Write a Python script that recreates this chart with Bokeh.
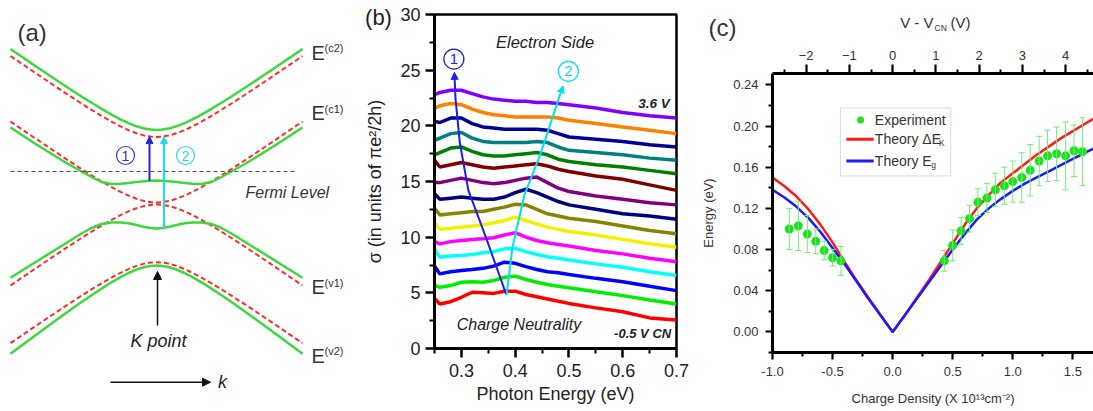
from bokeh.plotting import figure
from bokeh.layouts import row, column
from bokeh.models import (ColumnDataSource, FixedTicker, PrintfTickFormatter, LinearAxis,
                          Range1d, Label, Arrow, NormalHead, Whisker, TeeHead, BoxAnnotation)
from bokeh.embed import file_html
from bokeh.resources import INLINE

FONT = "Liberation Sans"

# ---------------- Panel (a): schematic bands (k from K point, E relative to Fermi level) -------------
BAND_K_ABS = [0, 6, 12, 20, 28, 36, 45, 55, 65, 75, 95, 120, 146]
GREEN_C2 = [41.5, 41.9, 42.9, 45.2, 48.4, 52.1, 56.9, 62.7, 68.7, 75.0, 88.0, 104.8, 122.5]
RED_C2 = [34.5, 34.9, 35.9, 38.2, 41.4, 45.1, 49.9, 55.7, 61.7, 68.0, 81.0, 97.8, 115.5]
GREEN_C1 = [-9.0, -9.2, -9.7, -10.6, -11.6, -12.3, -12.5, -10.5, -5.5, 0.0, 11.5, 27.0, 44.0]
RED_C1 = [-31.0, -30.6, -29.6, -27.3, -24.1, -20.4, -15.6, -9.8, -3.8, 2.5, 15.5, 32.3, 50.0]
GREEN_V1 = [-57.0, -56.6, -55.5, -53.5, -51.8, -51.0, -51.0, -52.5, -56.5, -62.0, -74.5, -90.0, -106.3]
RED_V1 = [-33.0, -33.4, -34.4, -36.7, -39.9, -43.6, -48.4, -54.2, -60.2, -66.5, -79.5, -96.3, -114.0]
RED_V2 = [-90.7, -91.1, -92.1, -94.4, -97.6, -101.3, -106.1, -111.9, -117.9, -124.2, -137.2, -154.0, -171.7]
GREEN_V2 = [-94.0, -94.4, -95.5, -98.0, -101.5, -105.6, -110.8, -117.1, -123.7, -130.5, -144.7, -163.0, -182.3]
BAND_LABELS = ["(c2)", "(c1)", "(v1)", "(v2)"]
BAND_LABEL_E = [119, 58.5, -115.7, -184]

# ---------------- Panel (b): optical conductivity spectra ----------------
E_GRID = [0.25, 0.26, 0.28, 0.30, 0.32, 0.34, 0.36, 0.38, 0.40, 0.42, 0.44, 0.46, 0.48, 0.50, 0.55, 0.60, 0.65, 0.70]
SIG_RED = [4.5, 4.0, 4.2, 4.6, 5.05, 5.0, 4.95, 5.15, 5.15, 4.85, 4.65, 4.45, 4.25, 4.05, 3.65, 3.3, 2.75, 2.55]
SIG_LIME = [5.7, 5.5, 5.65, 5.95, 6.0, 5.95, 6.1, 6.4, 6.5, 6.2, 5.95, 5.75, 5.6, 5.45, 5.1, 4.75, 4.35, 4.0]
SIG_BLUE = [7.4, 6.7, 6.9, 7.0, 7.1, 7.2, 7.4, 7.75, 7.65, 7.35, 7.1, 6.9, 6.8, 6.65, 6.3, 6.0, 5.6, 5.2]
SIG_CYAN = [8.9, 8.2, 8.3, 8.35, 8.45, 8.6, 8.7, 8.95, 9.0, 8.7, 8.45, 8.25, 8.1, 7.95, 7.6, 7.3, 6.9, 6.55]
SIG_MAGENTA = [9.6, 9.4, 9.6, 9.7, 9.8, 9.85, 9.95, 10.2, 10.4, 10.0, 9.7, 9.5, 9.35, 9.2, 8.8, 8.5, 8.1, 7.8]
SIG_YELLOW = [11.3, 10.7, 10.8, 10.9, 11.0, 11.1, 11.3, 11.5, 11.8, 11.5, 11.2, 10.9, 10.7, 10.5, 10.2, 9.8, 9.4, 9.1]
SIG_OLIVE = [12.6, 12.0, 12.1, 12.2, 12.3, 12.3, 12.5, 12.7, 12.95, 12.9, 12.5, 12.1, 11.9, 11.7, 11.4, 11.0, 10.6, 10.3]
SIG_NAVY = [13.9, 13.4, 13.5, 13.6, 13.5, 13.4, 13.4, 13.6, 14.0, 14.3, 14.0, 13.6, 13.2, 12.9, 12.5, 12.1, 11.9, 11.6]
SIG_PURPLE = [14.9, 14.9, 15.1, 15.3, 15.1, 14.9, 14.8, 14.9, 15.1, 15.3, 15.4, 14.9, 14.4, 14.1, 13.7, 13.4, 13.1, 12.9]
SIG_MAROON = [16.9, 16.3, 16.5, 16.7, 16.5, 16.3, 16.2, 16.3, 16.4, 16.5, 16.6, 16.4, 16.1, 15.9, 15.5, 15.2, 14.7, 14.2]
SIG_GREEN = [17.4, 17.6, 18.0, 18.1, 17.7, 17.4, 17.3, 17.3, 17.4, 17.5, 17.6, 17.4, 17.0, 16.8, 16.5, 16.3, 16.0, 15.7]
SIG_TEAL = [18.7, 18.9, 19.3, 19.4, 18.9, 18.6, 18.5, 18.5, 18.5, 18.5, 18.6, 18.5, 18.1, 17.8, 17.6, 17.4, 17.1, 16.9]
SIG_NAVY2 = [20.4, 20.3, 20.7, 20.7, 20.2, 19.9, 19.8, 19.7, 19.7, 19.7, 19.7, 19.6, 19.3, 19.0, 18.8, 18.6, 18.3, 18.1]
SIG_ORANGE = [21.6, 21.8, 22.0, 21.9, 21.5, 21.2, 21.0, 20.9, 20.8, 20.8, 20.8, 20.8, 20.7, 20.5, 20.2, 19.9, 19.6, 19.3]
SIG_VIOLET = [22.8, 23.0, 23.2, 23.2, 22.9, 22.6, 22.4, 22.3, 22.2, 22.2, 22.1, 22.1, 22.0, 21.9, 21.6, 21.2, 20.9, 20.7]
SPECTRA = [SIG_RED, SIG_LIME, SIG_BLUE, SIG_CYAN, SIG_MAGENTA, SIG_YELLOW, SIG_OLIVE, SIG_NAVY,
           SIG_PURPLE, SIG_MAROON, SIG_GREEN, SIG_TEAL, SIG_NAVY2, SIG_ORANGE, SIG_VIOLET]
SPECTRA_COLORS = ["#ff0000", "#00ee00", "#0000ff", "#00ffff", "#ff00ff", "#f2f200", "#858500", "#000080",
                  "#800080", "#800000", "#008000", "#008080", "#000099", "#ff8000", "#8000ff"]
PEAK1_E = [0.383, 0.347, 0.313, 0.297, 0.289, 0.287]
PEAK1_S = [4.9, 9.8, 14.2, 18.5, 22.5, 24.8]
PEAK2_E = [0.384, 0.395, 0.417, 0.448, 0.478, 0.489]
PEAK2_S = [4.8, 9.1, 13.75, 17.6, 22.0, 23.6]

# ---------------- Panel (c): gap vs charge density ----------------
EXP_X = [-0.86, -0.785, -0.71, -0.64, -0.57, -0.50, -0.43, 0.43, 0.50, 0.57, 0.64, 0.71, 0.785, 0.855,
         0.93, 1.00, 1.075, 1.145, 1.22, 1.29, 1.365, 1.44, 1.51, 1.58]
EXP_Y = [0.100, 0.103, 0.095, 0.088, 0.079, 0.072, 0.069, 0.069, 0.084, 0.098, 0.110, 0.126, 0.130, 0.138,
         0.142, 0.146, 0.150, 0.157, 0.166, 0.171, 0.173, 0.171, 0.176, 0.175]
EXP_ERR = [0.020, 0.024, 0.018, 0.012, 0.009, 0.008, 0.014, 0.010, 0.015, 0.013, 0.013, 0.013, 0.014, 0.016,
           0.018, 0.020, 0.024, 0.025, 0.024, 0.025, 0.026, 0.033, 0.025, 0.033]
TH_X = [-1.0, -0.9, -0.8, -0.7, -0.6, -0.5, -0.4, -0.3, -0.2, -0.1, 0.0, 0.1, 0.2, 0.3, 0.4, 0.5, 0.6,
        0.7, 0.8, 0.9, 1.0, 1.1, 1.2, 1.3, 1.4, 1.5, 1.6, 1.672]
TH_DEK = [0.150, 0.1415, 0.1315, 0.119, 0.104, 0.087, 0.068, 0.050, 0.033, 0.0165, 0.0, 0.016, 0.033, 0.050,
          0.068, 0.086, 0.104, 0.120, 0.133, 0.145, 0.154, 0.163, 0.172, 0.180, 0.188, 0.195, 0.202, 0.207]
TH_EG = [0.138, 0.1305, 0.1215, 0.1105, 0.097, 0.0815, 0.066, 0.049, 0.032, 0.016, 0.0, 0.016, 0.032, 0.048,
         0.064, 0.080, 0.095, 0.109, 0.120, 0.129, 0.137, 0.144, 0.150, 0.156, 0.162, 0.168, 0.174, 0.178]
V_TICKS = [-2, -1, 0, 1, 2, 3, 4]
V_MINOR = [-2.5, -1.5, -0.5, 0.5, 1.5, 2.5, 3.5, 4.5]
DENSITY_PER_VOLT = 0.36

W, H = 1093, 411


def lab(p, x, y, text, size, color="#222222", style="normal", align="center", baseline="middle"):
    p.add_layout(Label(x=x, y=y, text=text, text_font=FONT, text_font_size=f"{size}px",
                       text_color=color, text_font_style=style, text_align=align,
                       text_baseline=baseline))


def arrow(p, x0, y0, x1, y1, color, width=2, head=8):
    p.add_layout(Arrow(end=NormalHead(size=head, fill_color=color, line_color=color, line_width=1),
                       x_start=x0, y_start=y0, x_end=x1, y_end=y1,
                       line_color=color, line_width=width))


def mirror(kabs, e):
    return [-v for v in kabs[:0:-1]] + list(kabs), list(e[:0:-1]) + list(e)


# ======================= Panel (a) =======================
pa = figure(width=345, height=H, x_range=(-156, 189), y_range=(-240, 171),
            x_axis_type=None, y_axis_type=None, toolbar_location=None,
            output_backend="svg", min_border=0)
pa.outline_line_color = None

RED = "#ff2a2a"
GREEN = "#3cd83c"
for band in [RED_C2, RED_C1, RED_V1, RED_V2]:
    k, e = mirror(BAND_K_ABS, band)
    pa.line(k, e, line_color=RED, line_width=2, line_dash="5 3")
for band in [GREEN_C2, GREEN_C1, GREEN_V1, GREEN_V2]:
    k, e = mirror(BAND_K_ABS, band)
    pa.line(k, e, line_color=GREEN, line_width=2.5)

pa.line([-146, 141], [0, 0], line_color="#555555", line_width=1.2, line_dash="4 3")
lab(pa, 89, -21, "Fermi Level", 16, "#333333", "italic", "left")

arrow(pa, -7, GREEN_C1[1], -7, RED_C2[1], "#2424d0", 2, 7)
arrow(pa, 7.5, GREEN_V1[1], 7.5, RED_C2[1], "#22d8ee", 2, 7)
pa.scatter([-31], [16], size=18, marker="circle", fill_color=None, line_color="#3333cc", line_width=1.2)
lab(pa, -31, 16, "1", 14, "#3333cc")
pa.scatter([29], [16], size=18, marker="circle", fill_color=None, line_color="#22d8ee", line_width=1.2)
lab(pa, 29, 16, "2", 14, "#22d8ee")

arrow(pa, 1, -154, 1, -100, "#111111", 1.5, 8)
lab(pa, 2, -169, "K point", 18, "#222222", "italic")
arrow(pa, -46, -210.7, 54, -210.7, "#111111", 1.5, 8)
lab(pa, 66, -210.7, "k", 18, "#222222", "italic")
lab(pa, -139, 139, "(a)", 24, "#333333", "normal", "left")

# ======================= Panel (b) =======================
pb = figure(width=353, height=H, x_range=Range1d(0.25, 0.70), y_range=Range1d(0, 30),
            toolbar_location=None, output_backend="svg",
            min_border_left=89, min_border_right=22, min_border_top=14, min_border_bottom=63)
pb.grid.visible = False
pb.outline_line_color = "black"
pb.outline_line_width = 2.5

for sig, col in zip(SPECTRA, SPECTRA_COLORS):
    pb.line(E_GRID, sig, line_color=col, line_width=3.5)

pb.line(PEAK1_E[:-1], PEAK1_S[:-1], line_color="#1e1ee6", line_width=2)
arrow(pb, PEAK1_E[-2], PEAK1_S[-2], PEAK1_E[-1], PEAK1_S[-1], "#1e1ee6", 2, 7)
pb.line(PEAK2_E[:-1], PEAK2_S[:-1], line_color="#00e0f0", line_width=2)
arrow(pb, PEAK2_E[-2], PEAK2_S[-2], PEAK2_E[-1], PEAK2_S[-1], "#00e0f0", 2, 7)
pb.scatter([0.286], [26.0], size=20, marker="circle", fill_color=None, line_color="#1e1ee6", line_width=1.3)
lab(pb, 0.286, 26.0, "1", 15, "#1e1ee6")
pb.scatter([0.499], [24.9], size=20, marker="circle", fill_color=None, line_color="#00e0f0", line_width=1.3)
lab(pb, 0.499, 24.9, "2", 15, "#00e0f0")

lab(pb, 0.4556, 27.5, "Electron Side", 16.5, "#222222", "italic")
lab(pb, 0.658, 22.0, "3.6 V", 13.5, "#222222", "bold italic")
lab(pb, 0.407, 2.16, "Charge Neutrality", 16, "#222222", "italic")
lab(pb, 0.637, 1.32, "-0.5 V CN", 13, "#222222", "bold italic")

pb.xaxis.ticker = FixedTicker(ticks=[0.3, 0.4, 0.5, 0.6, 0.7],
                              minor_ticks=[0.25, 0.35, 0.45, 0.55, 0.65])
pb.xaxis.formatter = PrintfTickFormatter(format="%.1f")
pb.yaxis.ticker = FixedTicker(ticks=[0, 5, 10, 15, 20, 25, 30],
                              minor_ticks=[2.5, 7.5, 12.5, 17.5, 22.5, 27.5])
pb.xaxis.axis_label = "Photon Energy (eV)"
pb.yaxis.axis_label = "σ (in units of πe²/2h)"
for ax in [pb.below[0], pb.left[0]]:
    ax.axis_line_width = 3
    ax.major_tick_line_width = 2.5
    ax.minor_tick_line_width = 2
    ax.major_tick_out = 9
    ax.major_tick_in = 0
    ax.minor_tick_out = 5
    ax.minor_tick_in = 0
    ax.major_label_text_font = FONT
    ax.major_label_text_font_size = "18px"
    ax.major_label_text_color = "#222222"
    ax.axis_label_text_font = FONT
    ax.axis_label_text_font_size = "18px"
    ax.axis_label_text_font_style = "normal"
    ax.axis_label_text_color = "#222222"
    ax.major_label_standoff = 5
pb.left[0].axis_label_standoff = 12
pb.below[0].axis_label_standoff = 4
pb.below[0].major_label_standoff = 6

# ======================= Panel (c) =======================
pc = figure(width=395, height=H, x_range=Range1d(-1.0, 1.672), y_range=Range1d(-0.02, 0.251),
            toolbar_location=None, output_backend="svg",
            min_border_left=69, min_border_right=0, min_border_top=73, min_border_bottom=59)
pc.grid.visible = False
pc.outline_line_color = None

pc.line(TH_X, TH_DEK, line_color="#ff1a1a", line_width=2.5)
pc.line(TH_X, TH_EG, line_color="#1a1aff", line_width=2.5)

src = ColumnDataSource(data=dict(
    x=EXP_X, y=EXP_Y,
    lower=[y - e for y, e in zip(EXP_Y, EXP_ERR)],
    upper=[y + e for y, e in zip(EXP_Y, EXP_ERR)]))
ERRC = "#70ee70"
pc.add_layout(Whisker(source=src, base="x", lower="lower", upper="upper",
                      line_color=ERRC, line_width=1, level="glyph",
                      upper_head=TeeHead(size=6, line_color=ERRC, line_width=1),
                      lower_head=TeeHead(size=6, line_color=ERRC, line_width=1)))
pc.scatter("x", "y", source=src, size=9, marker="circle", fill_color="#1fe01f", line_color=None)

pc.add_layout(BoxAnnotation(left=-0.434, right=0.484, bottom=0.1515, top=0.2175, level="underlay",
                            fill_color="white", fill_alpha=1, line_color="#8a8a8a", line_width=1))
pc.scatter([-0.267], [0.2058], size=7, marker="circle", fill_color="#1fe01f", line_color=None)
pc.line([-0.385, -0.158], [0.1871, 0.1871], line_color="#ff1a1a", line_width=3)
pc.line([-0.385, -0.158], [0.166, 0.166], line_color="#1a1aff", line_width=3)
lab(pc, -0.148, 0.2058, "Experiment", 14, "#333333", "normal", "left")
lab(pc, -0.148, 0.1871, "Theory ΔE", 14, "#333333", "normal", "left")
lab(pc, 0.385, 0.1835, "K", 8.5, "#333333", "normal", "left")
lab(pc, -0.148, 0.166, "Theory E", 14, "#333333", "normal", "left")
lab(pc, 0.322, 0.1625, "g", 8.5, "#333333", "normal", "left")

pc.xaxis.ticker = FixedTicker(ticks=[-1.0, -0.5, 0.0, 0.5, 1.0, 1.5],
                              minor_ticks=[-0.75, -0.25, 0.25, 0.75, 1.25])
pc.xaxis.formatter = PrintfTickFormatter(format="%.1f")
pc.yaxis.ticker = FixedTicker(ticks=[0.0, 0.04, 0.08, 0.12, 0.16, 0.20, 0.24],
                              minor_ticks=[-0.02, 0.02, 0.06, 0.10, 0.14, 0.18, 0.22])
pc.yaxis.formatter = PrintfTickFormatter(format="%.2f")
bottom_c = pc.below[0]
left_c = pc.left[0]
bottom_c.axis_label = "Charge Density (X 10¹³cm⁻²)"
left_c.axis_label = "Energy (eV)"

pc.extra_x_ranges = {"volt": Range1d(-1.0 / DENSITY_PER_VOLT, 1.672 / DENSITY_PER_VOLT)}
top_c = LinearAxis(x_range_name="volt", ticker=FixedTicker(ticks=V_TICKS, minor_ticks=V_MINOR))
pc.add_layout(top_c, "above")

for ax in [bottom_c, left_c, top_c]:
    ax.axis_line_width = 3
    ax.major_tick_line_width = 2.2
    ax.minor_tick_line_width = 2
    ax.major_tick_out = 7
    ax.major_tick_in = 0
    ax.minor_tick_out = 4
    ax.minor_tick_in = 0
    ax.major_label_text_font = FONT
    ax.major_label_text_font_size = "13px"
    ax.major_label_text_color = "#333333"
    ax.axis_label_text_font = FONT
    ax.axis_label_text_font_size = "13px"
    ax.axis_label_text_font_style = "normal"
    ax.axis_label_text_color = "#333333"
    ax.major_label_standoff = 7
top_c.major_tick_out = 9
top_c.major_label_standoff = 5
left_c.axis_label_standoff = 14
bottom_c.axis_label_standoff = 12

# ============ text layer for labels that sit outside the plot frames (page pixel coords) ============
tl = figure(width=W, height=H, x_range=(0, W), y_range=(H, 0), x_axis_type=None, y_axis_type=None,
            toolbar_location=None, output_backend="svg", min_border=0,
            background_fill_alpha=0, border_fill_alpha=0,
            styles={"margin-top": f"-{H}px", "z-index": "5", "pointer-events": "none"})
tl.outline_line_color = None
lab(tl, 378, 17, "(b)", 22, "#222222")
lab(tl, 722, 27, "(c)", 24, "#333333")
lab(tl, 933, 22, "V - V", 15, "#333333", "normal", "right")
lab(tl, 934, 27, "CN", 8.5, "#333333", "normal", "left")
lab(tl, 950, 22, "(V)", 15, "#333333", "normal", "left")
for txt, ey in zip(BAND_LABELS, BAND_LABEL_E):
    py = 171 - ey
    lab(tl, 311, py, "E", 20, "#333333", "normal", "left")
    lab(tl, 324, py - 4.5, txt, 11, "#333333", "normal", "left")

layout = column(row(column(pa), column(pb), column(pc)), tl)
open("out.html", "w").write(file_html(layout, INLINE))
